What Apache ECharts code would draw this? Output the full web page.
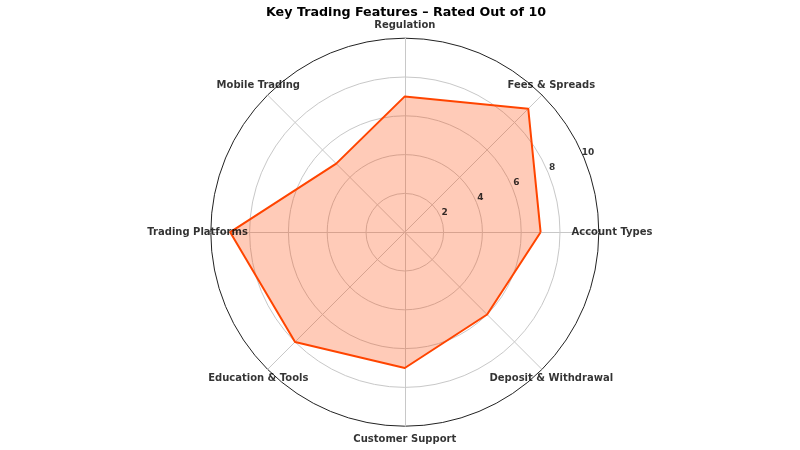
<!DOCTYPE html>
<html><head><meta charset="utf-8">
<script src="https://cdn.jsdelivr.net/npm/echarts@6/dist/echarts.min.js"></script>
<style>html,body{margin:0;padding:0;background:#fff}#c{width:800px;height:450px}</style>
</head><body><div id="c"></div>
<script>
const categories = ['Account Types','Fees & Spreads','Regulation','Mobile Trading','Trading Platforms','Education & Tools','Customer Support','Deposit & Withdrawal'];
const ratings = [7, 9, 7, 5, 9, 8, 7, 6];
const maxRating = 10;
const radialTicks = [2, 4, 6, 8, 10];
const titleText = 'Key Trading Features – Rated Out of 10';

const center = ['50.6%', '51.6%'];
const R = 194;
const font = 'DejaVu Sans';
const labelScale = 1.2;

const chart = echarts.init(document.getElementById('c'), null, {renderer: 'canvas'});
chart.setOption({
  backgroundColor: '#fff',
  animation: false,
  title: {text: titleText, left: 261, top: 1,
    textStyle: {fontFamily: font, fontWeight: 'bold', fontSize: 12.7, color: '#000'}},
  radar: {
    center: center, radius: R, startAngle: 0, shape: 'circle', splitNumber: 5,
    indicator: categories.map(n => ({name: n, max: maxRating, min: 0})),
    axisName: {show: false},
    splitArea: {show: false},
    splitLine: {lineStyle: {color: ['#222','#c8c8c8','#c8c8c8','#c8c8c8','#c8c8c8'], width: 1}},
    axisLine: {lineStyle: {color: '#c8c8c8', width: 1}},
    axisTick: {show: false}, axisLabel: {show: false}
  },
  polar: [
    {center: center, radius: R * labelScale},
    {center: center, radius: R * labelScale}
  ],
  angleAxis: [
    {polarIndex: 0, type: 'category', data: categories, startAngle: 0, clockwise: false, boundaryGap: false,
      axisLine: {show: false}, axisTick: {show: false}, axisLabel: {show: false}, splitLine: {show: false}},
    {polarIndex: 1, type: 'value', min: 0, max: 360, startAngle: 0, clockwise: false,
      axisLine: {show: false}, axisTick: {show: false}, axisLabel: {show: false}, splitLine: {show: false}}
  ],
  radiusAxis: [
    {polarIndex: 0, min: 0, max: maxRating * labelScale, show: false},
    {polarIndex: 1, min: 0, max: maxRating * labelScale, show: false}
  ],
  series: [
    {type: 'radar', symbol: 'none',
      lineStyle: {color: '#ff4500', width: 2},
      areaStyle: {color: '#ff4500', opacity: 0.28},
      data: [{value: ratings}]},
    {type: 'scatter', coordinateSystem: 'polar', polarIndex: 0, symbolSize: 1, silent: true,
      itemStyle: {color: 'rgba(0,0,0,0)'},
      data: categories.map(n => [maxRating * 1.068, n]),
      label: {show: true, position: 'inside', formatter: p => p.data[1],
        fontFamily: font, fontWeight: 'bold', fontSize: 10, color: '#000', textBorderWidth: 0}},
    {type: 'scatter', coordinateSystem: 'polar', polarIndex: 1, symbolSize: 1, silent: true,
      itemStyle: {color: 'rgba(0,0,0,0)'},
      data: radialTicks.map(v => [v, 22.5]),
      label: {show: true, position: 'inside', offset: [4, -5], formatter: p => String(p.data[0]),
        fontFamily: font, fontWeight: 'bold', fontSize: 9, color: '#000', textBorderWidth: 0}}
  ]
});
</script></body></html>
